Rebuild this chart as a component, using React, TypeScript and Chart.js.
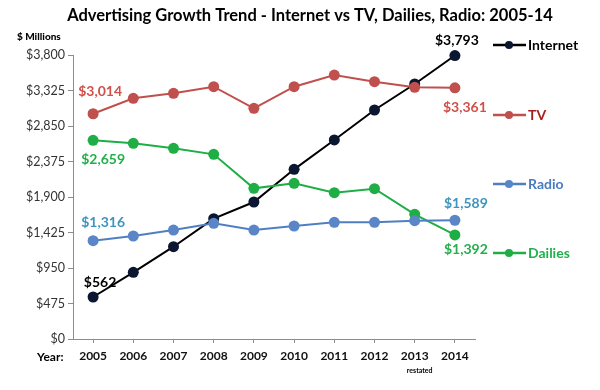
import React, { useEffect, useRef } from "react";
import { Chart, registerables } from "chart.js";

Chart.register(...registerables);

const years = ["2005", "2006", "2007", "2008", "2009", "2010", "2011", "2012", "2013", "2014"];
const internet = [562, 892, 1235, 1610, 1833, 2270, 2663, 3064, 3412, 3793];
const tv = [3014, 3221, 3288, 3376, 3087, 3376, 3532, 3443, 3368, 3361];
const dailies = [2659, 2618, 2551, 2471, 2016, 2083, 1958, 2011, 1668, 1392];
const radio = [1316, 1378, 1458, 1548, 1458, 1512, 1561, 1561, 1583, 1589];
const yTicks = [0, 475, 950, 1425, 1900, 2375, 2850, 3325, 3800];

const FONT = "Lato, 'Open Sans', sans-serif";

const C = {
  internetLine: "#000000",
  internetPt: "#0b1631",
  tvLine: "#c0504d",
  tvText: "#d0504a",
  tvLegend: "#a8201e",
  dailiesLine: "#1fae45",
  dailiesText: "#22b04c",
  radioLine: "#4f7fc2",
  radioText: "#3c95be",
  radioLegend: "#4a7cc0",
};

const fmt = (v: number) => "$" + v.toLocaleString("en-US");

// endpoint labels: dataset index, point index, dx, dy, color
const endLabels: [number, number, number, number, string][] = [
  [0, 0, 7, -15, "#000000"],
  [0, 9, 2, -15, "#000000"],
  [1, 0, 7, -22, C.tvText],
  [1, 9, 10, 20, C.tvText],
  [2, 0, 10, 19, C.dailiesText],
  [2, 9, 11, 15, C.dailiesText],
  [3, 0, 10, -18, C.radioText],
  [3, 9, 11, -17, C.radioText],
];

const legendItems: [number, string, string, string][] = [
  [0, "Internet", C.internetLine, "#000000"],
  [1, "TV", C.tvLine, C.tvLegend],
  [3, "Radio", C.radioLine, C.radioLegend],
  [2, "Dailies", C.dailiesLine, C.dailiesText],
];
const legendY = [45, 115, 184, 253];

const extrasPlugin = {
  id: "extras",
  afterDatasetsDraw(chart: any) {
    const ctx = chart.ctx as CanvasRenderingContext2D;
    ctx.save();
    // title
    ctx.font = `bold 16.5px ${FONT}`;
    ctx.fillStyle = "#000";
    ctx.textAlign = "center";
    ctx.textBaseline = "middle";
    ctx.fillText("Advertising Growth Trend - Internet vs TV, Dailies, Radio: 2005-14", 310, 16);
    // y unit
    ctx.font = `900 10px ${FONT}`;
    ctx.textAlign = "left";
    ctx.fillText("$ Millions", 17, 37);
    // Year:
    const xs = chart.scales.x;
    ctx.font = `bold 12px ${FONT}`;
    ctx.textAlign = "left";
    ctx.fillText("Year:", 37, 357);
    // restated
    ctx.font = `bold 7px ${FONT}`;
    ctx.textAlign = "center";
    ctx.fillText("restated", xs.getPixelForValue(8) + 5, 371);
    // end labels
    ctx.font = `bold 14px ${FONT}`;
    for (const [di, pi, dx, dy, col] of endLabels) {
      const meta = chart.getDatasetMeta(di);
      const pt = meta.data[pi];
      ctx.fillStyle = col;
      ctx.textAlign = "center";
      ctx.fillText(fmt(chart.data.datasets[di].data[pi]), pt.x + dx, pt.y + dy);
    }
    // legend
    legendItems.forEach(([di, name, lineCol, textCol], i) => {
      const y = legendY[i];
      const ds = chart.data.datasets[di];
      ctx.strokeStyle = lineCol;
      ctx.lineWidth = 2.5;
      ctx.beginPath();
      ctx.moveTo(493, y);
      ctx.lineTo(526, y);
      ctx.stroke();
      ctx.fillStyle = ds.pointBackgroundColor;
      ctx.beginPath();
      ctx.arc(509, y, 4, 0, Math.PI * 2);
      ctx.fill();
      ctx.fillStyle = textCol;
      ctx.textAlign = "left";
      ctx.font = `bold 14px ${FONT}`;
      ctx.fillText(name, 528, y);
    });
    ctx.restore();
  },
};

export default function App() {
  const ref = useRef<HTMLCanvasElement>(null);
  useEffect(() => {
    if (!ref.current) return;
    const mk = (label: string, data: number[], line: string, pt: string, order: number) => ({
      label,
      data,
      borderColor: line,
      backgroundColor: pt,
      pointBackgroundColor: pt,
      pointBorderColor: pt,
      pointRadius: 5.5,
      pointBorderWidth: 0,
      borderWidth: 2,
      tension: 0,
      clip: false as any,
      order,
    });
    const chart = new Chart(ref.current, {
      type: "line",
      data: {
        labels: years,
        datasets: [
          mk("Internet", internet, C.internetLine, C.internetPt, 3),
          mk("TV", tv, C.tvLine, C.tvLine, 2),
          mk("Dailies", dailies, C.dailiesLine, C.dailiesLine, 1),
          mk("Radio", radio, C.radioLine, "#5a86c8", 0),
        ],
      },
      options: {
        animation: false,
        responsive: false,
        layout: { padding: { left: 0, top: 55, right: 125, bottom: 0 } },
        plugins: { legend: { display: false }, tooltip: { enabled: false }, title: { display: false } },
        scales: {
          x: {
            type: "category",
            offset: true,
            grid: { display: true, drawOnChartArea: false, drawTicks: true, tickLength: 4, color: "#8c8c8c", offset: false },
            border: { display: true, color: "#8c8c8c", width: 1 },
            ticks: { color: "#111", font: { family: FONT, size: 12, weight: "bold" }, padding: 6, maxRotation: 0 },
            afterFit: (s: any) => { s.height = 51; },
          },
          y: {
            min: 0,
            max: 3800,
            afterBuildTicks: (s: any) => { s.ticks = yTicks.map((v) => ({ value: v })); },
            grid: { display: true, drawOnChartArea: false, drawTicks: true, tickLength: 5, color: "#8c8c8c" },
            border: { display: true, color: "#8c8c8c", width: 1 },
            ticks: {
              color: "#333",
              font: { family: FONT, size: 12.5 },
              padding: 3,
              callback: (v: any) => fmt(Number(v)),
            },
            afterFit: (s: any) => { s.width = 73; },
          },
        },
      },
      plugins: [extrasPlugin],
    });
    return () => chart.destroy();
  }, []);
  return (
    <div style={{ position: "fixed", left: 0, top: 0, width: 600, height: 390, background: "#fff" }}>
      <canvas ref={ref} width={600} height={390} style={{ display: "block", width: 600, height: 390 }} />
    </div>
  );
}
